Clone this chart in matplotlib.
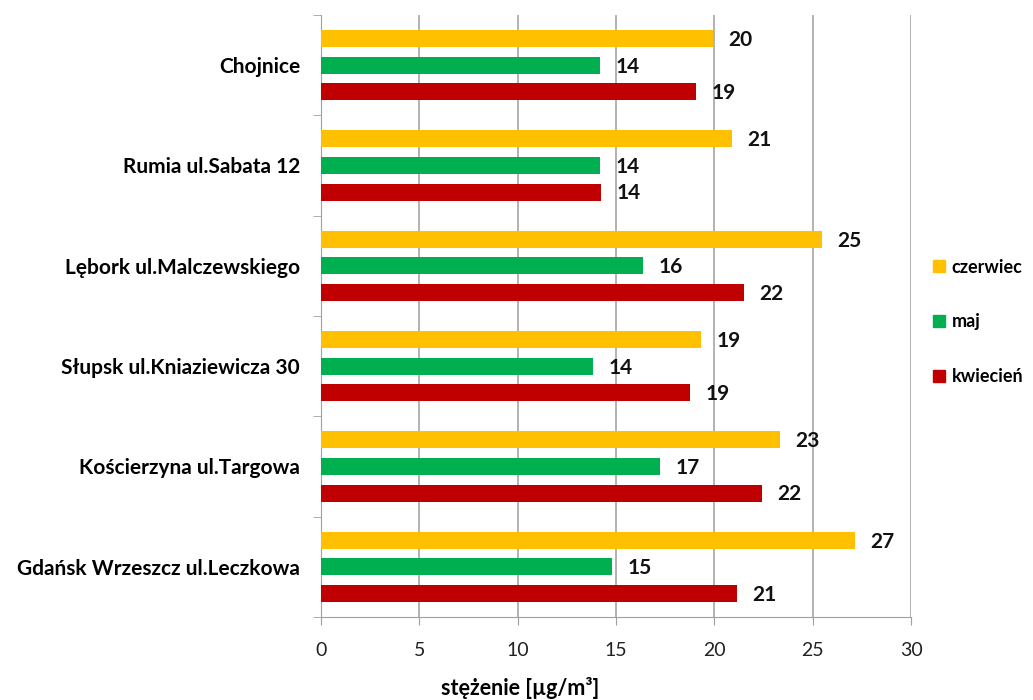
import numpy as np
import matplotlib.pyplot as plt
from matplotlib.lines import Line2D

plt.rcParams['font.family'] = ['Lato', 'DejaVu Sans']

stations = ['Gdańsk Wrzeszcz ul.Leczkowa', 'Kościerzyna ul.Targowa',
            'Słupsk ul.Kniaziewicza 30', 'Lębork ul.Malczewskiego',
            'Rumia ul.Sabata 12', 'Chojnice']
kwiecien = [21.15, 22.40, 18.78, 21.53, 14.25, 19.06]
maj = [14.82, 17.23, 13.85, 16.37, 14.19, 14.19]
czerwiec = [27.16, 23.36, 19.34, 25.49, 20.89, 19.94]

series = [('kwiecień', kwiecien, '#C00000', -0.265),
          ('maj', maj, '#00B050', 0.0),
          ('czerwiec', czerwiec, '#FFC000', 0.265)]

fig = plt.figure(figsize=(10.33, 7), dpi=100)
ax = fig.add_axes([0.3107, 0.1186, 0.5712, 0.86])

y = np.arange(len(stations))
for name, vals, col, off in series:
    ax.barh(y + off, vals, height=0.17, color=col, zorder=3)
    for yi, v in zip(y, vals):
        ax.annotate(f'{v:.0f}', (v, yi + off), xytext=(11, -1), textcoords='offset points',
                    ha='left', va='center', fontsize=15, fontweight='bold', color='#111111')

ax.set_xlim(0, 30)
ax.set_ylim(-0.5, 5.5)
ax.set_xticks(range(0, 31, 5))
ax.tick_params(axis='x', labelsize=14, length=6, color='#A0A0A0', pad=12, labelcolor='#222222')
ax.grid(axis='x', color='#A6A6A6', lw=1.2, zorder=0)

ax.set_yticks(y)
ax.set_yticklabels(stations, fontsize=15, fontweight='bold')
ax.tick_params(axis='y', length=0, pad=15)
ax.set_yticks(np.arange(-0.5, 6, 1), minor=True)
ax.tick_params(axis='y', which='minor', length=6, color='#A0A0A0')

for s in ['top', 'right']:
    ax.spines[s].set_visible(False)
ax.spines['left'].set_color('#A0A0A0')
ax.spines['bottom'].set_color('#A0A0A0')

handles = [Line2D([], [], ls='none', marker='s', markersize=9, color=c)
           for _, _, c, _ in series[::-1]]
labels = [n for n, _, _, _ in series[::-1]]
fig.legend(handles, labels, loc='center left', bbox_to_anchor=(0.902, 0.54),
           frameon=False, labelspacing=2.1, handletextpad=0.3, handlelength=0.8,
           borderpad=0, borderaxespad=0,
           prop={'size': 13, 'weight': 'bold'})

fig.text(520 / 1033, 1 - 688 / 700, 'stężenie [µg/m³]', ha='center', va='center',
         fontsize=15.5, fontweight='bold')

fig.savefig('out.png', dpi=100)
